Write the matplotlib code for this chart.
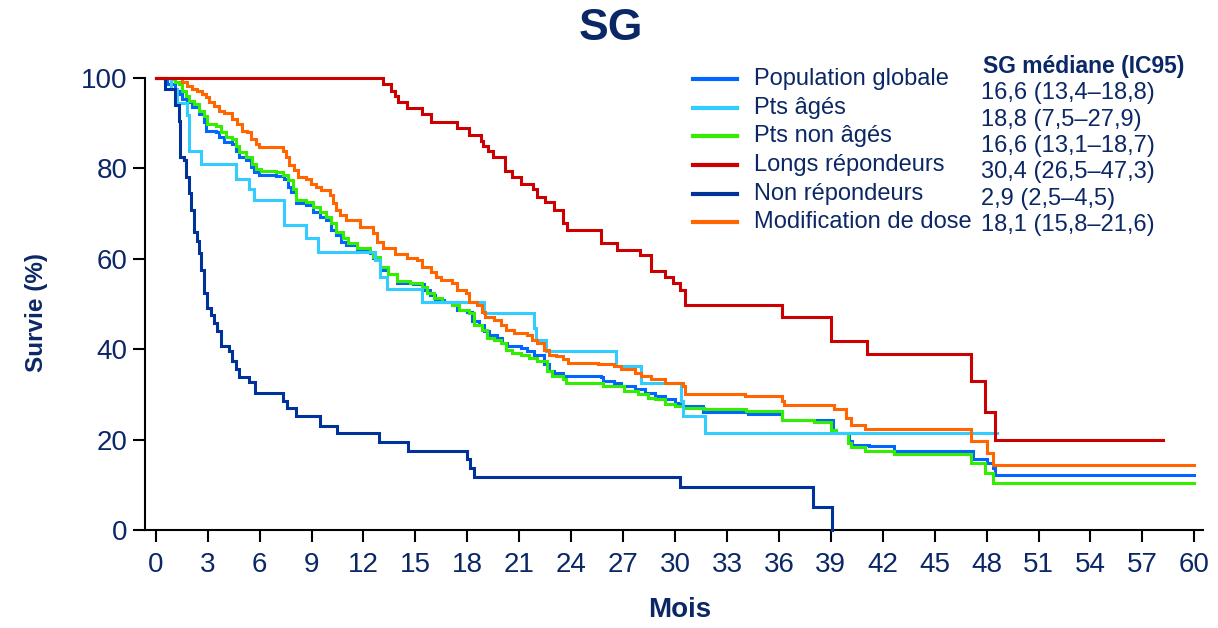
"""Courbes de survie globale (SG) par sous-groupe, style Kaplan-Meier."""

import matplotlib
matplotlib.use("Agg")
import matplotlib.pyplot as plt
from matplotlib.lines import Line2D

plt.rcParams["font.family"] = ["Liberation Sans", "DejaVu Sans"]

NAVY = "#0b2766"

# ---- data (mois, survie %) ----
labels = ["Population globale", "Pts âgés", "Pts non âgés",
          "Longs répondeurs", "Non répondeurs", "Modification de dose"]
medians = ["16,6 (13,4–18,8)", "18,8 (7,5–27,9)", "16,6 (13,1–18,7)",
           "30,4 (26,5–47,3)", "2,9 (2,5–4,5)", "18,1 (15,8–21,6)"]
colors = ["#0066ff", "#33ccff", "#33ee00", "#cc0000", "#003399", "#ff6600"]

t_global = [0, 0.56, 0.66, 1.14, 1.34, 1.53, 1.82, 2.11, 2.50, 2.79, 2.89, 3.47, 3.66, 3.95,
            4.43, 4.63, 4.82, 5.21, 5.50, 5.69, 5.98, 6.95, 7.43, 7.63, 7.82, 8.11, 8.69,
            9.08, 9.47, 9.85, 10.14, 10.44, 10.73, 11.02, 11.6, 12.37, 12.56, 12.95, 13.4,
            13.92, 14.88, 15.47, 15.85, 16.14, 16.63, 17.11, 17.4, 17.98, 18.28, 18.66,
            18.95, 19.24, 19.73, 20.02, 20.31, 21.08, 21.47, 21.85, 22.43, 22.72, 23.01,
            23.5, 25.73, 25.82, 26.5, 26.89, 27.66, 28.24, 28.82, 29.4, 29.98, 30.47, 31.6,
            34.2, 36.2, 39.1, 39.3, 40.05, 40.24, 41.2, 42.67, 47.2, 48.0, 48.37, 48.47, 60.0]
s_global = [100, 99.7, 98.6, 97.1, 96.4, 95.3, 94.6, 93.5, 92.0, 90.2, 88.3, 87.9, 86.9, 85.8,
            85.4, 83.9, 82.4, 81.7, 80.2, 79.1, 78.4, 78.2, 77.7, 75.8, 74.7, 72.2, 71.8,
            70.3, 69.2, 68.5, 66.3, 65.2, 63.7, 63.0, 61.9, 61.3, 60.1, 57.5, 56.6,
            54.7, 54.4, 53.1, 52.0, 50.9, 50.5, 49.8, 48.7, 48.3, 46.1, 45.4,
            43.9, 43.2, 42.4, 41.3, 40.6, 40.2, 39.5, 38.8, 36.6, 35.1, 34.7,
            34.0, 33.8, 32.9, 32.5, 31.8, 31.1, 30.3, 29.6, 28.9, 28.1, 27.4, 26.1,
            25.6, 24.4, 22.2, 21.5, 19.7, 18.9, 18.6, 17.5, 15.8, 14.9, 13.6, 12.1, 12.1]

t_ages = [0, 0.9, 1.2, 1.8, 1.95, 2.6, 4.63, 5.4, 5.69, 7.43, 8.69, 9.37, 12.66, 12.95, 13.34,
          15.37, 18.95, 21.85, 21.95, 22.53, 26.6, 28.05, 30.37, 30.47, 31.72, 48.6]
s_ages = [100, 97.4, 94.5, 91.8, 83.7, 81.0, 77.7, 75.5, 72.9, 67.4, 64.5, 61.5, 59.7, 56.0, 53.2,
          50.5, 48.0, 44.6, 42.1, 39.5, 36.2, 32.4, 28.5, 25.2, 21.5, 21.5]

t_non_ages = [0, 0.95, 1.14, 1.34, 1.53, 1.72, 1.92, 2.21, 2.50, 2.79, 2.98, 3.47, 3.76, 4.05,
              4.43, 4.63, 4.82, 5.21, 5.59, 5.79, 6.08, 6.95, 7.33, 7.63, 7.92, 8.11, 8.69,
              9.08, 9.47, 9.85, 10.14, 10.44, 10.82, 11.11, 11.6, 12.37, 12.56, 12.95, 13.4,
              13.92, 14.69, 15.37, 15.66, 16.05, 16.53, 17.11, 17.5, 18.08, 18.37, 18.86,
              19.15, 19.53, 19.92, 20.21, 20.6, 21.08, 21.56, 22.05, 22.63, 22.92, 23.5,
              23.69, 25.82, 27.08, 27.86, 28.44, 28.82, 29.4, 29.98, 30.47, 31.7, 34.1, 36.2,
              38.0, 39.0, 39.3, 40.0, 40.15, 41.0, 42.67, 47.1, 47.9, 48.37, 60.0]
s_non_ages = [100, 99.7, 99.0, 98.6, 97.1, 96.0, 94.9, 94.2, 92.7, 91.6, 89.8, 89.4, 87.9, 86.9,
              86.5, 85.0, 83.5, 82.4, 81.0, 79.9, 79.4, 79.1, 78.4, 77.3, 75.5, 72.9, 72.5,
              71.4, 70.3, 69.2, 67.8, 65.9, 64.5, 63.4, 62.3, 61.5, 60.4, 58.2, 56.6,
              55.0, 54.6, 53.8, 52.4, 51.3, 50.5, 49.8, 48.7, 48.0, 45.4, 44.3,
              42.4, 42.1, 41.3, 39.9, 39.1, 38.8, 38.0, 37.3, 35.1, 34.0, 33.3,
              32.5, 31.8, 30.7, 30.0, 29.2, 28.9, 27.8, 27.4, 27.0, 26.7, 26.3, 24.4,
              23.9, 22.2, 21.5, 19.3, 18.4, 17.5, 16.7, 14.8, 12.7, 10.5, 10.5]

t_longs = [0, 13.15, 13.6, 13.8, 14.0, 14.5, 15.4, 15.9, 17.4, 18.1, 18.8, 18.9, 19.2, 19.5,
           20.2, 20.6, 21.1, 21.8, 22.0, 22.5, 23.0, 23.5, 23.75, 25.7, 26.65, 28.0, 28.6,
           29.4, 29.9, 30.3, 30.55, 36.2, 39.0, 41.1, 47.1, 47.9, 48.5, 58.2]
s_longs = [100, 98.5, 97.1, 96.0, 94.6, 93.2, 92.0, 90.3, 88.8, 87.4, 86.1, 85.0, 83.9, 82.4,
           79.3, 78.0, 76.6, 75.5, 73.6, 72.5, 70.7, 67.8, 66.4, 63.5, 62.0, 60.8, 57.3,
           56.0, 54.6, 53.1, 49.8, 47.2, 41.8, 39.0, 32.9, 26.1, 20.0, 20.0]

t_non_rep = [0, 0.56, 1.14, 1.34, 1.43, 1.63, 1.72, 1.92, 2.02, 2.21, 2.40, 2.50, 2.60, 2.79,
             2.98, 3.18, 3.37, 3.56, 3.76, 4.24, 4.43, 4.63, 4.82, 5.40, 5.75, 7.38, 7.57,
             8.11, 9.47, 10.47, 12.91, 14.59, 17.98, 18.14, 18.37, 30.3, 37.96, 39.08]
s_non_rep = [100, 97.5, 94, 90.5, 82.4, 81.7, 78, 74.4, 70.7, 65.9, 64, 61.2, 57.5, 52.4,
             49, 47.6, 45.7, 43.9, 40.6, 39.5, 37.3, 35.5, 33.9, 32.7, 30.3, 28.5, 27,
             25.2, 23.1, 21.4, 19.4, 17.5, 15.6, 13.8, 11.8, 9.4, 5.0, 0]

t_dose = [0, 1.53, 1.82, 2.11, 2.40, 2.69, 2.88, 3.08, 3.37, 3.66, 3.95, 4.43, 4.72, 5.01,
          5.30, 5.50, 5.79, 5.98, 7.33, 7.53, 7.72, 8.01, 8.20, 8.69, 8.98, 9.27, 9.56,
          10.05, 10.24, 10.44, 10.63, 11.02, 11.79, 12.56, 12.76, 13.14, 13.8, 14.5, 15.1,
          15.4, 15.9, 16.2, 16.5, 17.1, 17.4, 17.9, 18.1, 18.57, 18.86, 19.05, 19.53, 19.92,
          20.21, 20.69, 21.47, 21.76, 22.05, 22.43, 22.72, 23.11, 23.5, 23.79, 25.53, 26.5,
          26.89, 27.66, 28.05, 28.63, 29.4, 30.47, 30.6, 34.05, 36.2, 36.3, 39.2, 39.86,
          40.15, 41.0, 47.1, 48.0, 48.37, 60.0]
s_dose = [100, 99.0, 98.2, 97.5, 97.0, 96.4, 95.7, 94.6, 93.8, 92.7, 92.1, 90.9, 89.8, 88.3,
          87.9, 86.5, 85.4, 84.6, 83.9, 82.4, 80.6, 79.5, 78.0, 77.7, 76.6, 75.8, 75.1,
          74.0, 72.2, 70.7, 69.6, 68.5, 67.0, 65.6, 63.7, 62.3, 61.0, 60.2, 59.7,
          58.2, 57.1, 56.0, 55.3, 54.6, 53.1, 52.4, 50.5, 49.8, 48.3, 47.2, 46.5, 45.4,
          44.3, 43.5, 43.2, 42.1, 41.3, 39.9, 38.8, 38.4, 37.7, 36.9, 36.6, 36.2,
          35.5, 34.7, 34.0, 33.3, 32.5, 31.8, 30.0, 29.6, 28.5, 27.6, 26.7, 24.8,
          23.3, 22.4, 19.7, 17.1, 14.3, 14.3]

series = [(t_global, s_global), (t_ages, s_ages), (t_non_ages, s_non_ages),
          (t_longs, s_longs), (t_non_rep, s_non_rep), (t_dose, s_dose)]
draw_order = [0, 2, 1, 4, 5, 3]

x_ticks = list(range(0, 61, 3))
y_ticks = [0, 20, 40, 60, 80, 100]

W, H = 1218, 628
fig = plt.figure(figsize=(W / 100, H / 100), dpi=100)
ax = fig.add_axes([145 / W, 1 - 530 / H, (1203 - 145) / W, (530 - 77.7) / H])

for i in draw_order:
    t, s = series[i]
    ax.step(t, s, where="post", color=colors[i], lw=2.2, solid_joinstyle="miter",
            clip_on=False, zorder=3)

ax.set_xlim(-0.62, 60.5)
ax.set_ylim(0, 100)
ax.set_xticks(x_ticks)
ax.set_yticks(y_ticks)
for side in ("top", "right"):
    ax.spines[side].set_visible(False)
for side in ("left", "bottom"):
    ax.spines[side].set_linewidth(1.5)
ax.tick_params(axis="both", length=8.5, width=1.5, labelsize=20, labelcolor=NAVY)
ax.tick_params(axis="x", pad=7)
ax.tick_params(axis="y", pad=4)

fig.text(611 / W, 1 - 29 / H, "SG", ha="center", va="center", fontsize=32,
         fontweight="bold", color=NAVY)
fig.text(680 / W, 1 - 610 / H, "Mois", ha="center", va="center", fontsize=20,
         fontweight="bold", color=NAVY)
fig.text(36 / W, 1 - 312 / H, "Survie (%)", ha="center", va="center", rotation=90,
         fontsize=17.5, fontweight="bold", color=NAVY)

# legend + median column
row_y = [79 + 28.7 * i for i in range(6)]
for i, lab in enumerate(labels):
    y = 1 - row_y[i] / H
    fig.add_artist(Line2D([693 / W, 737 / W], [y, y], color=colors[i], lw=3,
                          transform=fig.transFigure))
    fig.text(754 / W, y, lab, ha="left", va="center", fontsize=17, color=NAVY)
fig.text(983 / W, 1 - 67 / H, "SG médiane (IC95)", ha="left", va="center",
         fontsize=16.5, fontweight="bold", color=NAVY)
for i, med in enumerate(medians):
    fig.text(981 / W, 1 - (93.5 + 26.3 * i) / H, med, ha="left", va="center",
             fontsize=17, color=NAVY)

fig.savefig("out.png", dpi=100)
